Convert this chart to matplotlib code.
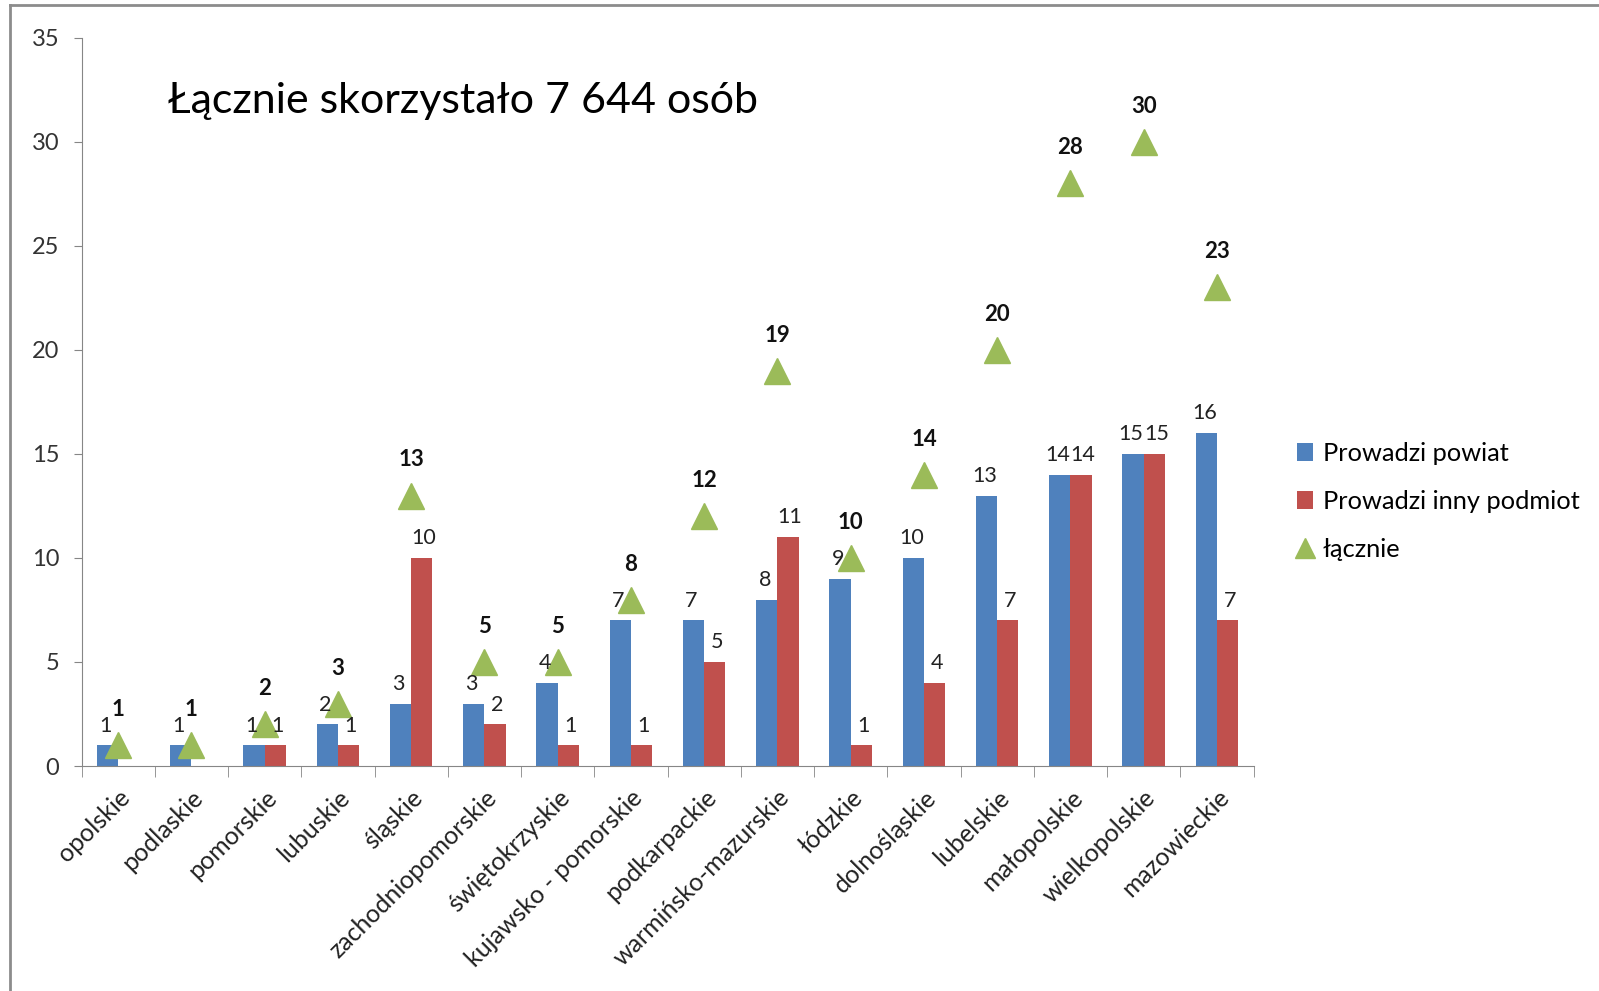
import matplotlib
matplotlib.use("Agg")
import matplotlib.pyplot as plt
from matplotlib.lines import Line2D
import numpy as np

categories = ["opolskie", "podlaskie", "pomorskie", "lubuskie", "śląskie",
              "zachodniopomorskie", "świętokrzyskie", "kujawsko - pomorskie",
              "podkarpackie", "warmińsko-mazurskie", "łódzkie", "dolnośląskie",
              "lubelskie", "małopolskie", "wielkopolskie", "mazowieckie"]
powiat = [1, 1, 1, 2, 3, 3, 4, 7, 7, 8, 9, 10, 13, 14, 15, 16]
inny = [0, 0, 1, 1, 10, 2, 1, 1, 5, 11, 1, 4, 7, 14, 15, 7]
lacznie = [1, 1, 2, 3, 13, 5, 5, 8, 12, 19, 10, 14, 20, 28, 30, 23]
y_ticks = [0, 5, 10, 15, 20, 25, 30, 35]
title_text = "Łącznie skorzystało 7 644 osób"
series_names = ["Prowadzi powiat", "Prowadzi inny podmiot", "łącznie"]

plt.rcParams['font.family'] = ['Lato', 'DejaVu Sans']

BLUE = "#4F81BD"
RED = "#C0504D"
GREEN = "#9BBB59"
AX = "#868686"

fig = plt.figure(figsize=(15.99, 9.91), dpi=100)
ax = fig.add_axes([0.051, 0.227, 0.733, 0.735])

x = np.arange(len(categories))
w = 0.29
b1 = ax.bar(x - w / 2, powiat, w, color=BLUE, label=series_names[0], zorder=2)
b2 = ax.bar(x + w / 2, inny, w, color=RED, label=series_names[1], zorder=2)
ln, = ax.plot(x, lacznie, linestyle="none", marker="^", markersize=19, color=GREEN,
              label=series_names[2], zorder=3)

for xi, v in zip(x, powiat):
    ax.annotate(str(v), (xi - w / 2, v), xytext=(-1.5, 7), textcoords="offset points",
                ha="center", va="bottom", fontsize=15.5, color="#222222", zorder=4)
for xi, v in zip(x, inny):
    if v > 0:
        ax.annotate(str(v), (xi + w / 2, v), xytext=(1.5, 7), textcoords="offset points",
                    ha="center", va="bottom", fontsize=15.5, color="#222222", zorder=4)
for xi, v in zip(x, lacznie):
    ax.annotate(str(v), (xi, v), xytext=(0, 18), textcoords="offset points",
                ha="center", va="bottom", fontsize=16, fontweight="bold",
                color="#111111", zorder=4)

ax.set_xlim(-0.5, len(categories) - 0.5)
ax.set_ylim(0, 35)
ax.set_yticks(y_ticks)
ax.tick_params(axis="y", labelsize=17, colors=AX, labelcolor="#333333",
               length=6, direction="out", pad=10)
ax.set_xticks(x)
ax.set_xticklabels(categories, rotation=45, ha="right", rotation_mode="anchor",
                   fontsize=18, color="#222222")
ax.tick_params(axis="x", length=0, pad=14)
ax.set_xticks(np.arange(-0.5, len(categories), 1.0), minor=True)
ax.tick_params(axis="x", which="minor", length=8, color=AX, direction="out")

for s in ["top", "right"]:
    ax.spines[s].set_visible(False)
for s in ["left", "bottom"]:
    ax.spines[s].set_color(AX)

ax.text(0.074, 0.913, title_text, transform=ax.transAxes, fontsize=31,
        ha="left", va="center", color="#000000")

leg = fig.legend(handles=[b1, b2, ln], labels=series_names, loc="upper left",
                 bbox_to_anchor=(0.797, 0.577), frameon=False,
                 fontsize=18.3, handlelength=0.6, handletextpad=0.4,
                 labelspacing=0.98, markerscale=0.75)

fig.add_artist(Line2D([0.0065, 0.0065], [0, 0.995], transform=fig.transFigure,
                      color="#8C8C8C", linewidth=2))
fig.add_artist(Line2D([0.0065, 1.0], [0.995, 0.995], transform=fig.transFigure,
                      color="#8C8C8C", linewidth=2))

fig.savefig("out.png", dpi=100)
